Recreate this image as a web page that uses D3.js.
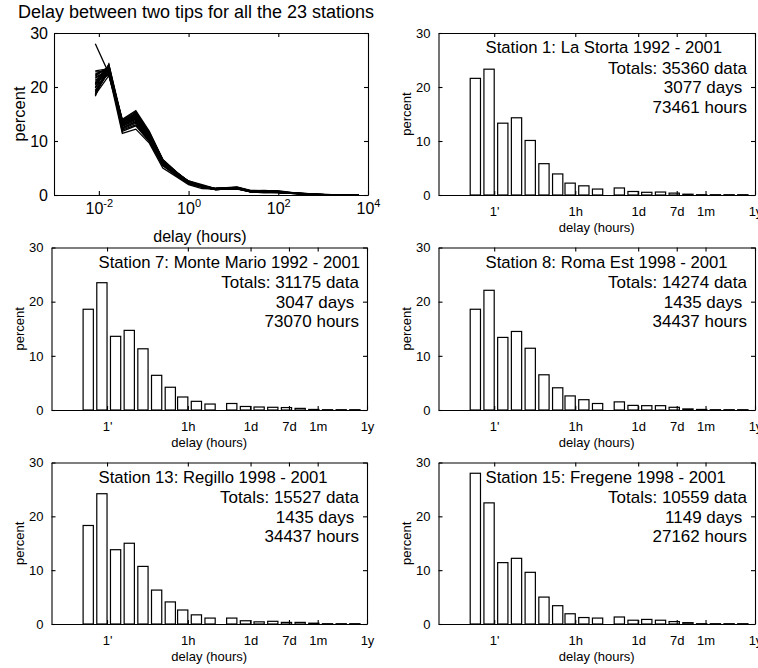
<!DOCTYPE html>
<html>
<head>
<meta charset="utf-8">
<script src="https://cdn.jsdelivr.net/npm/d3@7"></script>
<style>
  body { margin: 0; background: #fff; }
  svg { font-family: "Liberation Sans", Arial, Helvetica, sans-serif; }
  text { fill: #000; }
</style>
</head>
<body>
<div id="containerDiv"></div>
<script>
// upper edge of each delay bin, in hours (0.5', 1', 2', ... 256d)
const binEdgeHours = [1/120, 1/60, 2/60, 4/60, 8/60, 16/60, 32/60, 1, 2, 4, 12, 24, 48, 96, 192, 384, 768, 1536, 3072, 6144];

// percent per bin, one array per station (23 stations)
const s1  = [21.6, 23.3, 13.3, 14.3, 10.1, 5.8, 3.9, 2.2, 1.7, 1.1, 1.3, 0.65, 0.5, 0.55, 0.35, 0.15, 0.05, 0, 0, 0];
const s2  = [20.5, 23.0, 12.9, 14.0, 10.8, 6.1, 4.0, 2.3, 1.6, 1.1, 1.3, 0.7, 0.6, 0.55, 0.4, 0.2, 0.1, 0, 0, 0];
const s3  = [22.4, 23.6, 12.5, 13.6, 10.4, 5.9, 3.8, 2.2, 1.5, 1.0, 1.2, 0.6, 0.5, 0.5, 0.35, 0.2, 0.05, 0, 0, 0];
const s4  = [19.4, 23.2, 13.1, 14.6, 11.0, 6.2, 4.1, 2.5, 1.7, 1.2, 1.4, 0.75, 0.65, 0.6, 0.4, 0.25, 0.1, 0.05, 0, 0];
const s5  = [23.0, 23.4, 12.2, 13.3, 10.0, 5.6, 3.7, 2.1, 1.5, 1.0, 1.2, 0.6, 0.5, 0.45, 0.3, 0.15, 0.05, 0, 0, 0];
const s6  = [20.0, 22.6, 13.5, 15.2, 11.6, 6.6, 4.3, 2.5, 1.8, 1.2, 1.4, 0.8, 0.7, 0.6, 0.45, 0.25, 0.1, 0, 0, 0];
const s7  = [18.6, 23.5, 13.6, 14.7, 11.3, 6.4, 4.2, 2.4, 1.6, 1.1, 1.2, 0.65, 0.55, 0.5, 0.45, 0.3, 0.1, 0.05, 0, 0];
const s8  = [18.6, 22.1, 13.4, 14.5, 11.4, 6.5, 4.1, 2.6, 1.9, 1.2, 1.5, 0.85, 0.8, 0.8, 0.5, 0.2, 0.1, 0, 0, 0];
const s9  = [21.0, 24.0, 13.0, 14.2, 10.6, 6.0, 3.9, 2.3, 1.6, 1.1, 1.3, 0.7, 0.55, 0.5, 0.35, 0.2, 0.05, 0, 0, 0];
const s10 = [19.0, 22.8, 13.7, 15.0, 11.2, 6.3, 4.2, 2.5, 1.7, 1.2, 1.35, 0.75, 0.6, 0.55, 0.4, 0.2, 0.1, 0, 0, 0];
const s11 = [22.0, 23.8, 12.7, 13.8, 10.3, 5.7, 3.8, 2.2, 1.5, 1.0, 1.25, 0.65, 0.5, 0.5, 0.3, 0.15, 0.05, 0, 0, 0];
const s12 = [18.8, 23.0, 13.9, 15.4, 11.5, 6.4, 4.2, 2.4, 1.7, 1.15, 1.3, 0.7, 0.6, 0.55, 0.4, 0.2, 0.1, 0.05, 0, 0];
const s13 = [18.3, 24.2, 13.8, 15.0, 10.7, 6.3, 4.1, 2.6, 1.7, 1.1, 1.1, 0.6, 0.4, 0.5, 0.3, 0.3, 0.15, 0.05, 0, 0];
const s14 = [20.8, 22.4, 13.2, 14.8, 11.0, 6.2, 4.0, 2.4, 1.6, 1.1, 1.3, 0.7, 0.6, 0.5, 0.35, 0.2, 0.05, 0, 0, 0];
const s15 = [28.0, 22.5, 11.4, 12.2, 9.6, 5.0, 3.4, 1.9, 1.2, 1.1, 1.3, 0.7, 0.85, 0.7, 0.45, 0.25, 0.05, 0, 0, 0];
const s16 = [21.8, 23.1, 12.0, 13.0, 10.0, 5.5, 3.6, 2.1, 1.4, 1.0, 1.2, 0.65, 0.55, 0.5, 0.35, 0.2, 0.05, 0, 0, 0];
const s17 = [19.8, 24.2, 13.3, 14.4, 10.9, 6.0, 4.0, 2.3, 1.6, 1.1, 1.25, 0.65, 0.5, 0.5, 0.3, 0.15, 0.05, 0, 0, 0];
const s18 = [22.8, 22.9, 12.4, 13.5, 10.2, 5.8, 3.8, 2.2, 1.6, 1.05, 1.3, 0.7, 0.6, 0.5, 0.35, 0.2, 0.1, 0, 0, 0];
const s19 = [20.3, 23.7, 13.6, 14.9, 11.3, 6.3, 4.1, 2.4, 1.7, 1.2, 1.4, 0.75, 0.65, 0.6, 0.4, 0.25, 0.1, 0, 0, 0];
const s20 = [21.3, 22.2, 12.8, 14.1, 10.7, 6.0, 3.9, 2.3, 1.6, 1.1, 1.3, 0.7, 0.55, 0.5, 0.35, 0.2, 0.05, 0, 0, 0];
const s21 = [19.2, 23.3, 14.0, 15.6, 11.8, 6.5, 4.2, 2.5, 1.7, 1.2, 1.35, 0.7, 0.6, 0.55, 0.4, 0.2, 0.1, 0, 0, 0];
const s22 = [22.2, 23.5, 11.8, 12.8, 9.9, 5.4, 3.6, 2.1, 1.5, 1.0, 1.2, 0.6, 0.5, 0.45, 0.3, 0.15, 0.05, 0, 0, 0];
const s23 = [20.6, 23.9, 13.4, 14.6, 10.9, 6.1, 4.0, 2.4, 1.6, 1.1, 1.3, 0.7, 0.55, 0.5, 0.35, 0.2, 0.05, 0, 0, 0];
const allStations = [s1, s2, s3, s4, s5, s6, s7, s8, s9, s10, s11, s12, s13, s14, s15, s16, s17, s18, s19, s20, s21, s22, s23];

// the five stations shown as bar charts
const panelSeries = [s1, s7, s8, s13, s15];
const panelTitles = ["Station 1: La Storta 1992 - 2001", "Station 7: Monte Mario 1992 - 2001",
  "Station 8: Roma Est 1998 - 2001", "Station 13: Regillo 1998 - 2001", "Station 15: Fregene 1998 - 2001"];
const totalsData = [35360, 31175, 14274, 15527, 10559];
const totalsDays = [3077, 3047, 1435, 1435, 1149];
const totalsHours = [73461, 73070, 34437, 34437, 27162];

// tick labels
const delayTicks = [1/60, 1, 24, 168, 720, 8760];
const delayTickLabels = ["1'", "1h", "1d", "7d", "1m", "1y"];
const logTicks = [0.01, 1, 100, 10000];
const logTickExp = ["-2", "0", "2", "4"];
const percentTicks = [0, 10, 20, 30];

const svg = d3.select("#containerDiv").append("svg")
  .attr("width", 758).attr("height", 668);

// axes boxes: [left, right, top, bottom]
const boxes = [
  [54, 368, 33, 195],
  [438.5, 755, 33, 195],
  [51.5, 367, 247.5, 410],
  [438.5, 755, 247.5, 410],
  [51.5, 367, 462.5, 624],
  [438.5, 755, 462.5, 624],
];

// draw box and inward ticks on all four sides
function drawFrame(g, x, y, xTicks, yTicks, xFmt, fontSize, xPad, yPad) {
  g.append("g").attr("transform", `translate(0,${y.range()[0]})`)
    .call(d3.axisBottom(x).tickValues(xTicks).tickFormat(xFmt).tickSizeInner(-4).tickSizeOuter(0).tickPadding(xPad))
    .attr("class", "xaxis");
  g.append("g").attr("transform", `translate(0,${y.range()[1]})`)
    .call(d3.axisTop(x).tickValues(xTicks).tickFormat("").tickSizeInner(-4).tickSizeOuter(0));
  g.append("g").attr("transform", `translate(${x.range()[0]},0)`)
    .call(d3.axisLeft(y).tickValues(yTicks).tickSizeInner(-4).tickSizeOuter(0).tickPadding(yPad));
  g.append("g").attr("transform", `translate(${x.range()[1]},0)`)
    .call(d3.axisRight(y).tickValues(yTicks).tickFormat("").tickSizeInner(-4).tickSizeOuter(0));
  g.selectAll(".domain, .tick line").attr("stroke", "#000").attr("stroke-width", 1.1);
  g.selectAll(".tick text").attr("font-size", fontSize).attr("font-family", null).attr("fill", "#000");
}

// ---- top-left: all stations as lines ----
{
  const [l, r, t, b] = boxes[0];
  const g = svg.append("g");
  const x = d3.scaleLog().domain([1e-3, 1e4]).range([l, r]);
  const y = d3.scaleLinear().domain([0, 30]).range([b, t]);
  const line = d3.line().x((d, i) => x(binEdgeHours[i])).y(d => y(d));
  g.selectAll("path.station").data(allStations).enter().append("path")
    .attr("class", "station")
    .attr("d", line)
    .attr("fill", "none").attr("stroke", "#000").attr("stroke-width", 1.3);
  drawFrame(g, x, y, logTicks, percentTicks, () => "", 16, 19, 6);
  g.select(".xaxis").selectAll(".tick text").each(function (d, i) {
    const txt = d3.select(this).attr("dy", null).attr("text-anchor", "middle");
    txt.append("tspan").text("10");
    txt.append("tspan").attr("dy", -7).attr("font-size", 11).text(logTickExp[i]);
  });
  svg.append("text").attr("x", 196).attr("y", 18).attr("text-anchor", "middle")
    .attr("font-size", 18).text("Delay between two tips for all the 23 stations");
  svg.append("text").attr("x", 200).attr("y", 242).attr("text-anchor", "middle")
    .attr("font-size", 16).text("delay (hours)");
  svg.append("text").attr("transform", `translate(25,${(t + b) / 2}) rotate(-90)`)
    .attr("text-anchor", "middle").attr("font-size", 16.5).text("percent");
}

// ---- five station bar charts ----
panelSeries.forEach((vals, k) => {
  const [l, r, t, b] = boxes[k + 1];
  const g = svg.append("g");
  const x = d3.scaleLog().domain([1e-3, 8760]).range([l, r]);
  const y = d3.scaleLinear().domain([0, 30]).range([b, t]);
  // empty bins are still drawn, as flat outlines on the baseline
  g.selectAll("rect.bar").data(vals).enter().append("rect")
    .attr("class", "bar")
    .attr("x", (d, i) => x(binEdgeHours[i] / 1.68))
    .attr("width", (d, i) => x(binEdgeHours[i]) - x(binEdgeHours[i] / 1.68))
    .attr("y", d => Math.min(y(d), y(0) - 0.3))
    .attr("height", d => Math.max(y(0) - y(d), 0.3))
    .attr("fill", "#fff").attr("stroke", "#000").attr("stroke-width", 1.2);
  drawFrame(g, x, y, delayTicks, percentTicks, (d, i) => delayTickLabels[i], 13, 12, 8);

  g.append("text").attr("x", l + 47).attr("y", t + 20).attr("font-size", 16.7).text(panelTitles[k]);
  const lines = [`Totals: ${totalsData[k]} data`, `${totalsDays[k]} days `, `${totalsHours[k]} hours`];
  g.selectAll("text.tot").data(lines).enter().append("text")
    .attr("class", "tot")
    .attr("x", r - 8).attr("y", (d, i) => t + 40.5 + i * 19.7)
    .attr("text-anchor", "end").attr("font-size", 17)
    .style("white-space", "pre")
    .text(d => d);
  g.append("text").attr("x", (l + r) / 2).attr("y", b + 37).attr("text-anchor", "middle")
    .attr("font-size", 13).text("delay (hours)");
  g.append("text").attr("transform", `translate(${l - 28},${(t + b) / 2}) rotate(-90)`)
    .attr("text-anchor", "middle").attr("font-size", 13).text("percent");
});
</script>
</body>
</html>
